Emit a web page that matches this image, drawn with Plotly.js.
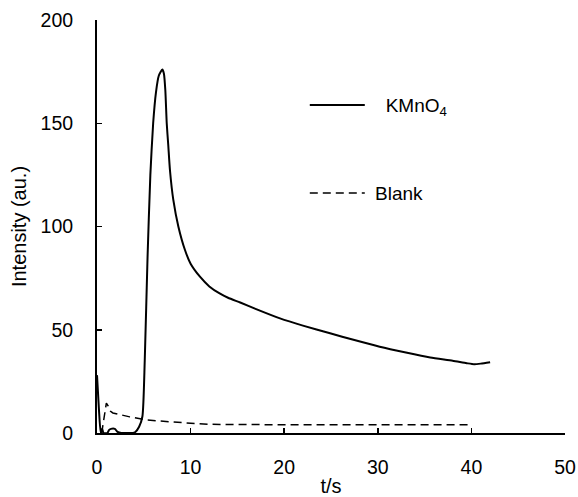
<!DOCTYPE html>
<html>
<head>
<meta charset="utf-8">
<script src="https://cdn.plot.ly/plotly-3.0.1.min.js"></script>
<style>html,body{margin:0;padding:0;background:#fff;}#chart{width:578px;height:497px;}</style>
</head>
<body>
<div id="chart"></div>
<script>
// KMnO4 series (time in s, intensity in a.u.)
var kmnoT = [0, 0.2, 0.4, 0.55, 0.7, 1.1, 1.3, 1.5, 1.9, 2.2, 2.6, 3.2, 3.8, 4.1, 4.5, 4.85, 5.1, 5.4, 5.7, 6.0, 6.3, 6.6, 6.98, 7.15, 7.3, 7.45, 7.62, 7.8, 8.15, 8.69, 9.4, 10, 11, 12, 13.1, 14, 15.3, 17, 19.55, 22, 24.9, 27.5, 30.2, 33, 35.6, 38, 39.5, 40.3, 41, 42];
var kmnoY = [28, 12, 0, 2, 0, 0, 1.5, 2, 2, 0.5, 0, 0, 0, 0.5, 3, 8, 35, 85, 125, 150, 165, 173, 176, 174, 166, 150, 139, 127, 113, 100, 88.6, 82, 75.7, 71, 67.6, 65.5, 63.2, 60, 55.5, 52, 48.3, 45, 41.8, 39, 36.6, 35, 33.8, 33.3, 33.6, 34.3];

// Blank series
var blankT = [0.5, 0.7, 1.0, 1.2, 1.45, 1.7, 2.5, 3.5, 5.3, 6.5, 8, 10, 12, 15, 20, 25, 30, 35, 40];
var blankY = [0, 6, 14.5, 13, 10.5, 9.7, 8.8, 7.8, 6.3, 5.8, 5.2, 4.7, 4.2, 4.0, 4, 4, 4, 4, 4];

var seriesNames = ['\u00a0\u00a0\u00a0KMnO<sub>4</sub>', '\u00a0Blank'];

var FONT = 'Arial, "Liberation Sans", sans-serif';

var traces = [
  {x: kmnoT, y: kmnoY, name: seriesNames[0], mode: 'lines', type: 'scatter',
   line: {color: '#000', width: 2, shape: 'spline', smoothing: 0.6}, legend: 'legend'},
  {x: blankT, y: blankY, name: seriesNames[1], mode: 'lines', type: 'scatter',
   line: {color: '#000', width: 1.5, dash: '8px,5px'}, legend: 'legend2'}
];

var layout = {
  width: 578, height: 497,
  margin: {l: 97, r: 13, t: 20, b: 64},
  paper_bgcolor: '#fff', plot_bgcolor: '#fff',
  font: {family: FONT, size: 19, color: '#000'},
  showlegend: true,
  legend: {x: 0.444, y: 0.794, xanchor: 'left', yanchor: 'middle', bgcolor: 'rgba(0,0,0,0)',
           itemwidth: 55, font: {family: FONT, size: 19, color: '#000'}},
  legend2: {x: 0.444, y: 0.581, xanchor: 'left', yanchor: 'middle', bgcolor: 'rgba(0,0,0,0)',
           itemwidth: 55, font: {family: FONT, size: 19, color: '#000'}},
  xaxis: {
    range: [0, 50], tickvals: [0, 10, 20, 30, 40, 50],
    ticks: 'inside', ticklen: 5, tickwidth: 1.5, tickcolor: '#000',
    showline: true, linecolor: '#000', linewidth: 2, showgrid: false, zeroline: false,
    ticklabelstandoff: 16,
    tickfont: {family: FONT, size: 19.5, color: '#000'},
    title: {text: 't/s', font: {family: FONT, size: 20, color: '#000'}, standoff: 7}
  },
  yaxis: {
    range: [0, 200], tickvals: [0, 50, 100, 150, 200],
    ticks: 'inside', ticklen: 5, tickwidth: 1.5, tickcolor: '#000',
    showline: true, linecolor: '#000', linewidth: 2, showgrid: false, zeroline: false,
    ticklabelstandoff: 18,
    tickfont: {family: FONT, size: 19.5, color: '#000'},
    title: {text: 'Intensity (au.)', font: {family: FONT, size: 20, color: '#000'}, standoff: 9}
  }
};

Plotly.newPlot('chart', traces, layout, {staticPlot: true, displayModeBar: false});
</script>
</body>
</html>
